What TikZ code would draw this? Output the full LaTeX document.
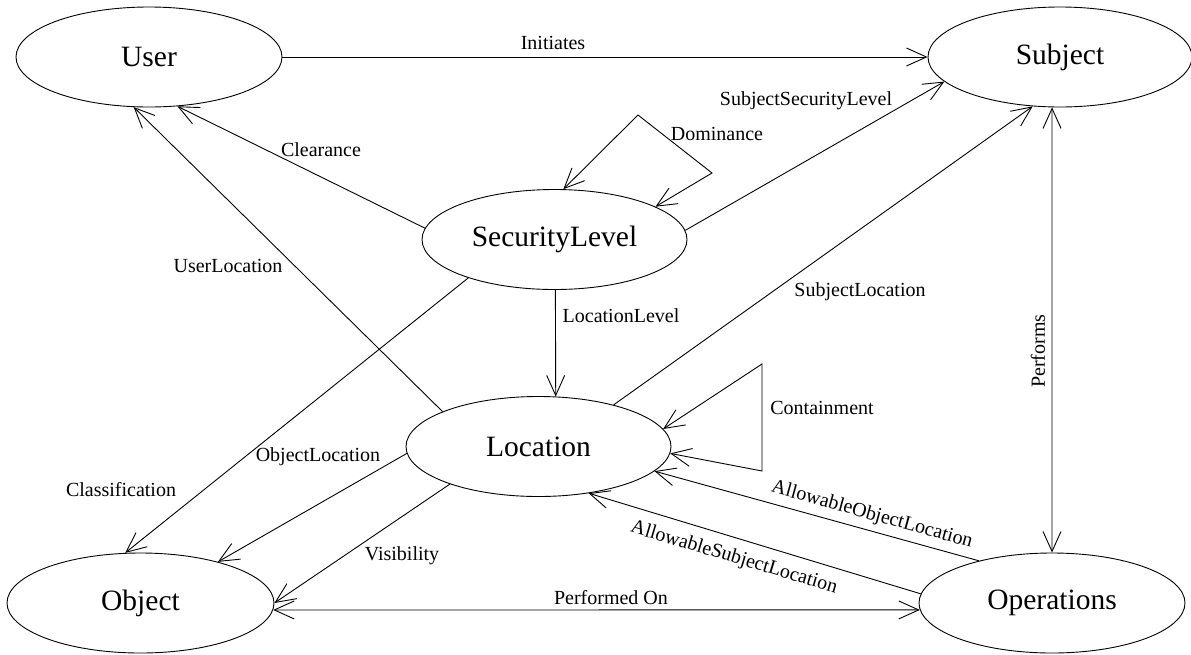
\documentclass[tikz,border=0pt]{standalone}
\usepackage{fontspec}
\setmainfont{Liberation Serif}
\usetikzlibrary{shapes.geometric,arrows.meta}
\tikzset{
  ent/.style={ellipse,draw,line width=0.9pt,minimum width=266pt,minimum height=100pt,inner sep=0pt,font=\fontsize{29.5}{34}\selectfont},
  lbl/.style={inner sep=0pt,font=\fontsize{20}{22}\selectfont},
  conn/.style={line width=0.9pt},
  arr/.style={conn,-{Straight Barb[length=20pt,width=18pt,line width=0.9pt]}},
  darr/.style={conn,{Straight Barb[length=20pt,width=18pt,line width=0.9pt]}-{Straight Barb[length=20pt,width=18pt,line width=0.9pt]}}
}
\begin{document}
\begin{tikzpicture}[x=1pt,y=-1pt]
\useasboundingbox[fill=white] (0,0) rectangle (1191,654);
% entities
\node[ent] (user) at (149,57) {User};
\node[ent,minimum width=264pt] (subject) at (1060,57) {Subject};
\node[ent,minimum width=265pt] (sec) at (554.5,239.5) {SecurityLevel};
\node[ent,minimum width=265pt] (loc) at (538.5,446.5) {Location};
\node[ent,minimum width=267pt] (obj) at (140.5,603) {Object};
\node[ent] (ops) at (1052,603) {Operations};
% loop corners
\coordinate (d1) at (638,115);
\coordinate (d2) at (712,173);
\coordinate (c1) at (762,364);
\coordinate (c2) at (762,471);
% connectors
\draw[arr] (user.0) -- (subject.180);
\draw[arr] (sec.175.2) -- (user.-60.8);
\draw[arr] (loc.160.2) -- (user.253.3);
\draw[arr] (sec.204.4) -- (obj.107.2);
\draw[arr] (loc.183.6) -- (obj.28.2);
\draw[arr] (loc.203.9) -- (obj.0.5);
\draw[darr] (obj.-3.8) -- (ops.183.9);
\draw[arr] (sec.-89.4) -- (loc.71.6);
\draw[arr] (sec.4.5) -- (subject.192.5);
\draw[arr] (loc.29.7) -- (subject.241.6);
\draw[darr] (sec.80.4) -- (d1) -- (d2) -- (sec.18.9);
\draw[darr] (loc.8.45) -- (c1) -- (c2) -- (loc.-3.4);
\draw[arr] (ops.150.8) -- (loc.-12.1);
\draw[arr] (ops.176.1) -- (loc.-43.9);
\draw[darr] (subject.261) -- (ops.90);
% labels
\node[lbl] (lInit) at (553,43) {Initiates};
\node[lbl] (lClear) at (321,150) {Clearance};
\node[lbl] (lUserLoc) at (228,266) {UserLocation};
\node[lbl] (lClass) at (121,490) {Classification};
\node[lbl] (lObjLoc) at (318,457) {ObjectLocation};
\node[lbl] (lVis) at (402,556) {Visibility};
\node[lbl] (lPerfOn) at (611,598) {Performed On};
\node[lbl] (lLocLev) at (621,316) {LocationLevel};
\node[lbl] (lSubSec) at (806,101) {SubjectSecurityLevel};
\node[lbl] (lSubLoc) at (860,292) {SubjectLocation};
\node[lbl] (lDom) at (717,134) {Dominance};
\node[lbl] (lCont) at (822,408) {Containment};
\node[lbl,rotate=-15.5] (lAOL) at (872,515) {AllowableObjectLocation};
\node[lbl,rotate=-16.6] (lASL) at (734,558) {AllowableSubjectLocation};
\node[lbl,rotate=90] (lPerf) at (1038,351) {Performs};
\end{tikzpicture}
\end{document}
